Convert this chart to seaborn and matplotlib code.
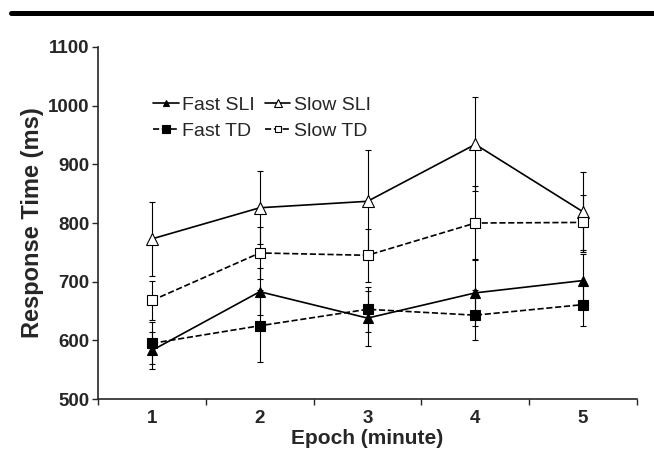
import pandas as pd
import numpy as np
import matplotlib.pyplot as plt
import seaborn as sns
from matplotlib.lines import Line2D

# Data
epochs = [1, 2, 3, 4, 5]
groups = ['Fast SLI', 'Slow SLI', 'Fast TD', 'Slow TD']
fast_sli = [583, 683, 638, 681, 702]
slow_sli = [773, 826, 837, 934, 819]
fast_td = [595, 625, 653, 643, 661]
slow_td = [668, 749, 745, 800, 801]
fast_sli_err = [32, 40, 47, 57, 46]
slow_sli_err = [63, 62, 87, 80, 68]
fast_td_err = [36, 61, 38, 43, 36]
slow_td_err = [33, 45, 45, 63, 47]

df = pd.DataFrame({
    'epoch': epochs * 4,
    'rt': fast_sli + slow_sli + fast_td + slow_td,
    'err': fast_sli_err + slow_sli_err + fast_td_err + slow_td_err,
    'group': np.repeat(groups, len(epochs)),
})

styles = {
    'Fast SLI': dict(marker='^', markerfacecolor='black', linestyle='-', markersize=7),
    'Slow SLI': dict(marker='^', markerfacecolor='white', linestyle='-', markersize=8),
    'Fast TD': dict(marker='s', markerfacecolor='black', linestyle='--', markersize=7.5),
    'Slow TD': dict(marker='s', markerfacecolor='white', linestyle='--', markersize=7),
}

sns.set_style('ticks')
plt.rcParams['font.family'] = ['Liberation Sans', 'DejaVu Sans']

fig = plt.figure(figsize=(6.54, 4.74), dpi=100)
ax = fig.add_axes([0.150, 0.158, 0.824, 0.743])

for g in groups:
    sub = df[df['group'] == g]
    ax.errorbar(sub['epoch'], sub['rt'], yerr=sub['err'], fmt='none',
                ecolor='black', elinewidth=0.8, capsize=2.5, capthick=0.8, zorder=2)
    sns.lineplot(data=sub, x='epoch', y='rt', ax=ax, color='black', label=g,
                 linewidth=1.2, markeredgecolor='black', markeredgewidth=0.8,
                 zorder=3, **styles[g])

# axes styling
ax.set_xlim(0.5, 5.5)
ax.set_ylim(500, 1100)
ax.set_yticks(range(500, 1101, 100))
ax.set_xticks(epochs)
ax.set_xticks(np.arange(0.5, 5.6, 1), minor=True)
ax.tick_params(axis='x', which='major', length=0, pad=8, labelsize=13.5)
ax.tick_params(axis='x', which='minor', length=4, width=1, direction='out')
ax.tick_params(axis='y', length=4, width=1, direction='out', pad=2, labelsize=13.5)
for lab in ax.get_xticklabels() + ax.get_yticklabels():
    lab.set_fontweight('bold')
sns.despine(ax=ax)
for s in ['left', 'bottom']:
    ax.spines[s].set_linewidth(1.2)

ax.set_xlabel('Epoch (minute)', fontsize=15, fontweight='bold', labelpad=1)
ax.set_ylabel('Response Time (ms)', fontsize=17, fontweight='bold', labelpad=3)

# legend: two rows (SLI on top, TD below)
handles, labels = ax.get_legend_handles_labels()
order = [labels.index(k) for k in ['Fast SLI', 'Fast TD', 'Slow SLI', 'Slow TD']]
leg = ax.legend([handles[i] for i in order], [labels[i] for i in order],
                ncol=2, frameon=False, loc='upper left', bbox_to_anchor=(0.07, 0.91),
                fontsize=14, handlelength=1.3, handletextpad=0.2,
                columnspacing=0.5, labelspacing=0.45, markerscale=0.7)

# black rule across the top of the page
fig.add_artist(Line2D([11 / 654, 1.0], [1 - 12.5 / 474] * 2,
                      transform=fig.transFigure, color='black', linewidth=3.6))

plt.savefig('out.png', dpi=100)
